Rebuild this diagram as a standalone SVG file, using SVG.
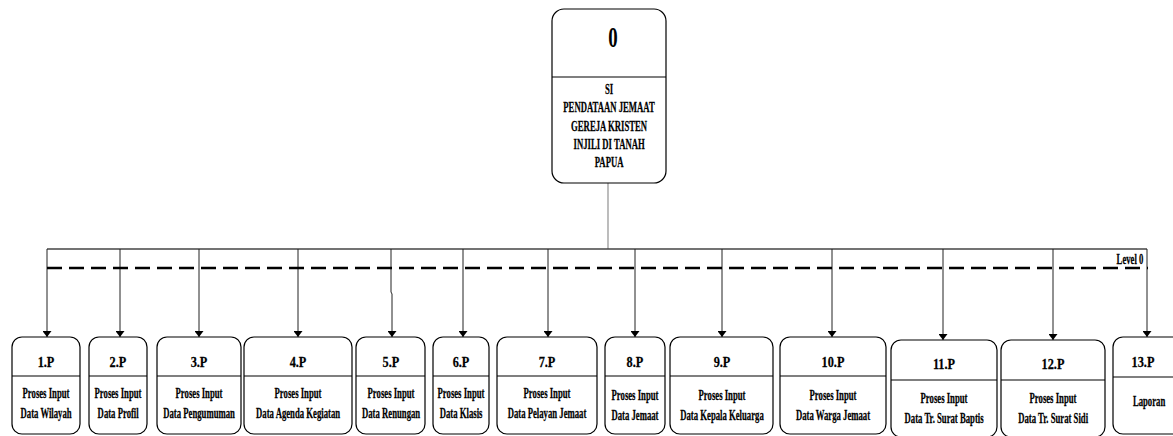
<svg xmlns="http://www.w3.org/2000/svg" width="1173" height="436" viewBox="0 0 1173 436">
<style>
.box{fill:#fff;stroke:#000;stroke-width:1.2}
.div{stroke:#000;stroke-width:1.2}
.lbl{font-family:"Liberation Serif",serif;font-weight:bold;font-size:15px;text-anchor:middle;fill:#000;stroke:#000;stroke-width:0.25;transform-box:fill-box;transform-origin:center;transform:scaleX(0.82)}
.txt{font-family:"Liberation Serif",serif;font-weight:bold;font-size:14.5px;text-anchor:middle;fill:#000;stroke:#000;stroke-width:0.25;transform-box:fill-box;transform-origin:center;transform:scaleX(0.6)}
.big{font-family:"Liberation Serif",serif;font-weight:bold;font-size:29px;text-anchor:middle;fill:#000;transform-box:fill-box;transform-origin:center;transform:scaleX(0.65)}
.con{stroke:#222;stroke-width:1;fill:none}
</style>
<defs>
<marker id="ah" viewBox="0 0 6 9" refX="6" refY="4.5" markerWidth="6" markerHeight="9" markerUnits="userSpaceOnUse" orient="auto">
<path d="M0,0 L6,4.5 L0,9 Z" fill="#000"/>
</marker>
</defs>
<rect width="1173" height="436" fill="#fff"/>

<g id="connectors">
<line x1="608" y1="183" x2="608" y2="249" stroke="#999" stroke-width="1.3"/>
<line x1="47" y1="249" x2="1147" y2="249" stroke="#444" stroke-width="1.5"/>
<line class="con" x1="47" y1="249" x2="47" y2="337" marker-end="url(#ah)"/>
<line class="con" x1="120" y1="249" x2="120" y2="337" marker-end="url(#ah)"/>
<line class="con" x1="199" y1="249" x2="199" y2="337" marker-end="url(#ah)"/>
<line class="con" x1="298" y1="249" x2="298" y2="337" marker-end="url(#ah)"/>
<polyline class="con" points="391,249 391,292 392,294 392,337" marker-end="url(#ah)"/>
<line class="con" x1="463" y1="249" x2="463" y2="337" marker-end="url(#ah)"/>
<line class="con" x1="548" y1="249" x2="548" y2="337" marker-end="url(#ah)"/>
<line class="con" x1="635" y1="249" x2="635" y2="337" stroke="#777" marker-end="url(#ah)"/>
<line class="con" x1="722" y1="249" x2="722" y2="337" marker-end="url(#ah)"/>
<line class="con" x1="832" y1="249" x2="832" y2="337" marker-end="url(#ah)"/>
<line class="con" x1="943" y1="249" x2="943" y2="340" marker-end="url(#ah)"/>
<line class="con" x1="1053" y1="249" x2="1053" y2="340" marker-end="url(#ah)"/>
<line class="con" x1="1147" y1="249" x2="1147" y2="337" stroke="#666" marker-end="url(#ah)"/>
</g>

<g id="level0">
<line x1="47" y1="268" x2="1148" y2="268" stroke="#000" stroke-width="2.6" stroke-dasharray="15 7"/>
<text class="txt" x="1130" y="264">Level 0</text>
</g>

<g id="node0">
<rect class="box" x="552" y="9" width="114" height="174" rx="12"/>
<line class="div" x1="552" y1="77" x2="666" y2="77"/>
<text class="big" x="613" y="47">0</text>
<text class="txt" x="609" y="94">SI</text>
<text class="txt" x="609" y="112">PENDATAAN JEMAAT</text>
<text class="txt" x="609" y="131">GEREJA KRISTEN</text>
<text class="txt" x="609" y="149">INJILI DI TANAH</text>
<text class="txt" x="609" y="167">PAPUA</text>
</g>

<g id="node1">
<rect class="box" x="12" y="337" width="68" height="97" rx="10"/>
<line class="div" x1="12" y1="376" x2="80" y2="376"/>
<text class="lbl" x="46" y="367">1.P</text>
<text class="txt" x="46" y="398">Proses Input</text>
<text class="txt" x="46" y="418">Data Wilayah</text>
</g>
<g id="node2">
<rect class="box" x="89" y="337" width="58" height="97" rx="10"/>
<line class="div" x1="89" y1="376" x2="147" y2="376"/>
<text class="lbl" x="118" y="367">2.P</text>
<text class="txt" x="118" y="398">Proses Input</text>
<text class="txt" x="118" y="418">Data Profil</text>
</g>
<g id="node3">
<rect class="box" x="157" y="337" width="84" height="97" rx="10"/>
<line class="div" x1="157" y1="376" x2="241" y2="376"/>
<text class="lbl" x="199" y="367">3.P</text>
<text class="txt" x="199" y="398">Proses Input</text>
<text class="txt" x="199" y="418">Data Pengumuman</text>
</g>
<g id="node4">
<rect class="box" x="244" y="337" width="108" height="97" rx="10"/>
<line class="div" x1="244" y1="376" x2="352" y2="376"/>
<text class="lbl" x="298" y="367">4.P</text>
<text class="txt" x="298" y="398">Proses Input</text>
<text class="txt" x="298" y="418">Data Agenda Kegiatan</text>
</g>
<g id="node5">
<rect class="box" x="356" y="337" width="69" height="97" rx="10"/>
<line class="div" x1="356" y1="376" x2="425" y2="376"/>
<text class="lbl" x="391" y="367">5.P</text>
<text class="txt" x="391" y="398">Proses Input</text>
<text class="txt" x="391" y="418">Data Renungan</text>
</g>
<g id="node6">
<rect class="box" x="433" y="337" width="56" height="97" rx="10"/>
<line class="div" x1="433" y1="376" x2="489" y2="376"/>
<text class="lbl" x="461" y="367">6.P</text>
<text class="txt" x="461" y="398">Proses Input</text>
<text class="txt" x="461" y="418">Data Klasis</text>
</g>
<g id="node7">
<rect class="box" x="497" y="337" width="100" height="97" rx="10"/>
<line class="div" x1="497" y1="376" x2="597" y2="376"/>
<text class="lbl" x="547" y="367">7.P</text>
<text class="txt" x="547" y="398">Proses Input</text>
<text class="txt" x="547" y="418">Data Pelayan Jemaat</text>
</g>
<g id="node8">
<rect class="box" x="605" y="337" width="60" height="97" rx="10"/>
<line class="div" x1="605" y1="376" x2="665" y2="376"/>
<text class="lbl" x="635" y="367">8.P</text>
<text class="txt" x="635" y="400">Proses Input</text>
<text class="txt" x="635" y="420">Data Jemaat</text>
</g>
<g id="node9">
<rect class="box" x="670" y="337" width="103" height="97" rx="10"/>
<line class="div" x1="670" y1="376" x2="773" y2="376"/>
<text class="lbl" x="722" y="367">9.P</text>
<text class="txt" x="722" y="400">Proses Input</text>
<text class="txt" x="722" y="420">Data Kepala Keluarga</text>
</g>
<g id="node10">
<rect class="box" x="780" y="337" width="106" height="97" rx="10"/>
<line class="div" x1="780" y1="376" x2="886" y2="376"/>
<text class="lbl" x="833" y="367">10.P</text>
<text class="txt" x="833" y="400">Proses Input</text>
<text class="txt" x="833" y="420">Data Warga Jemaat</text>
</g>
<g id="node11">
<rect class="box" x="891" y="340" width="106" height="97" rx="10"/>
<line class="div" x1="891" y1="380" x2="997" y2="380"/>
<text class="lbl" x="944" y="369">11.P</text>
<text class="txt" x="944" y="403">Proses Input</text>
<text class="txt" x="944" y="423">Data Tr. Surat Baptis</text>
</g>
<g id="node12">
<rect class="box" x="1001" y="340" width="104" height="97" rx="10"/>
<line class="div" x1="1001" y1="380" x2="1105" y2="380"/>
<text class="lbl" x="1053" y="369">12.P</text>
<text class="txt" x="1053" y="403">Proses Input</text>
<text class="txt" x="1053" y="423">Data Tr. Surat Sidi</text>
</g>
<g id="node13">
<rect class="box" x="1113" y="337" width="85" height="97" rx="10"/>
<line class="div" x1="1113" y1="377" x2="1198" y2="377"/>
<text class="lbl" x="1143" y="367">13.P</text>
<text class="txt" x="1149" y="406">Laporan</text>
</g>
</svg>
